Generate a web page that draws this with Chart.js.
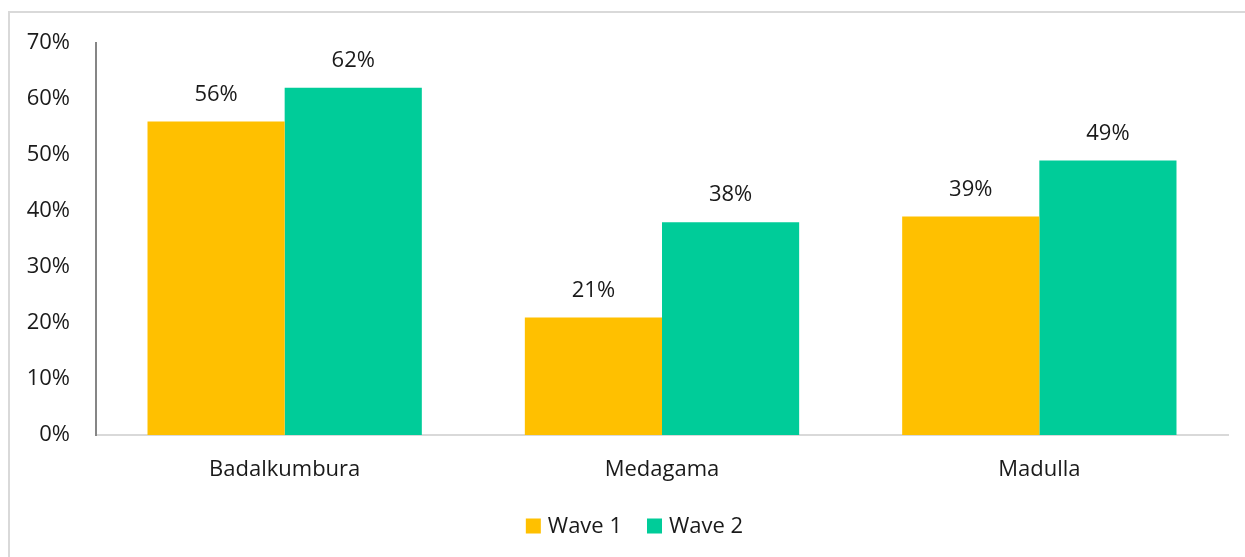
<!DOCTYPE html>
<html>
<head>
<meta charset="utf-8">
<script src="https://cdn.jsdelivr.net/npm/chart.js@4/dist/chart.umd.min.js"></script>
<style>
  html, body { margin: 0; padding: 0; background: #fff; }
  body { width: 1245px; height: 557px; position: relative; overflow: hidden; }
  #frame { position: absolute; left: 8px; top: 11px; width: 1300px; height: 600px;
           border-top: 2px solid #d9d9d9; border-left: 2px solid #d9d9d9; }
  #wrap { position: absolute; left: 0; top: 0; width: 1245px; height: 557px; }
</style>
</head>
<body>
<div id="frame"></div>
<div id="wrap"><canvas id="c" width="1245" height="557"></canvas></div>
<script>
const categories = ["Badalkumbura", "Medagama", "Madulla"];
const wave1 = [56, 21, 39];
const wave2 = [62, 38, 49];
const seriesNames = ["Wave 1", "Wave 2"];
const yTicks = [0, 10, 20, 30, 40, 50, 60, 70];

const FONT = "'Open Sans', 'Noto Sans', sans-serif";
const TEXT = "#1a1a1a";

const dataLabels = {
  id: 'dataLabels',
  afterDatasetsDraw(chart) {
    const ctx = chart.ctx;
    ctx.save();
    ctx.font = "22px " + FONT;
    ctx.fillStyle = TEXT;
    ctx.textAlign = 'center';
    ctx.textBaseline = 'middle';
    chart.data.datasets.forEach((ds, i) => {
      chart.getDatasetMeta(i).data.forEach((bar, j) => {
        ctx.fillText(ds.data[j] + '%', bar.x, bar.y - 27);
      });
    });
    ctx.restore();
  }
};

const customLegend = {
  id: 'customLegend',
  afterDraw(chart) {
    const ctx = chart.ctx;
    ctx.save();
    ctx.font = "22px " + FONT;
    ctx.textBaseline = 'middle';
    ctx.textAlign = 'left';
    const box = 15, gap = 7, itemGap = 25, cy = 526, cx = 634.5;
    const items = chart.data.datasets.map(ds => ({ text: ds.label, color: ds.backgroundColor, w: ctx.measureText(ds.label).width }));
    let total = 0;
    items.forEach((it, i) => { total += box + gap + it.w + (i ? itemGap : 0); });
    let x = cx - total / 2;
    items.forEach(it => {
      ctx.fillStyle = it.color;
      ctx.fillRect(x, cy - box / 2, box, box);
      ctx.fillStyle = TEXT;
      ctx.fillText(it.text, x + box + gap, cy + 1);
      x += box + gap + it.w + itemGap;
    });
    ctx.restore();
  }
};

new Chart(document.getElementById('c'), {
  type: 'bar',
  data: {
    labels: categories,
    datasets: [
      { label: seriesNames[0], data: wave1, backgroundColor: '#FFC000', borderWidth: 0 },
      { label: seriesNames[1], data: wave2, backgroundColor: '#00CC99', borderWidth: 0 }
    ]
  },
  options: {
    responsive: false,
    animation: false,
    devicePixelRatio: 1,
    layout: { padding: { left: 0, right: 17, top: 43, bottom: 52 } },
    datasets: { bar: { categoryPercentage: 0.727, barPercentage: 1.0 } },
    plugins: {
      legend: { display: false },
      tooltip: { enabled: false }
    },
    scales: {
      x: {
        grid: { display: false, drawTicks: false },
        border: { display: true, color: '#d9d9d9', width: 2 },
        ticks: { font: { family: FONT, size: 22 }, color: TEXT, padding: 22 },
        afterFit(s) { s.height = 70; }
      },
      y: {
        min: 0, max: 70,
        afterBuildTicks(s) { s.ticks = yTicks.map(v => ({ value: v })); },
        grid: { display: false, drawTicks: false },
        border: { display: true, color: '#868686', width: 2 },
        ticks: { font: { family: FONT, size: 22 }, color: TEXT, padding: 26,
                 callback: v => v + '%' },
        afterFit(s) { s.width = 96; }
      }
    }
  },
  plugins: [dataLabels, customLegend]
});
</script>
</body>
</html>
